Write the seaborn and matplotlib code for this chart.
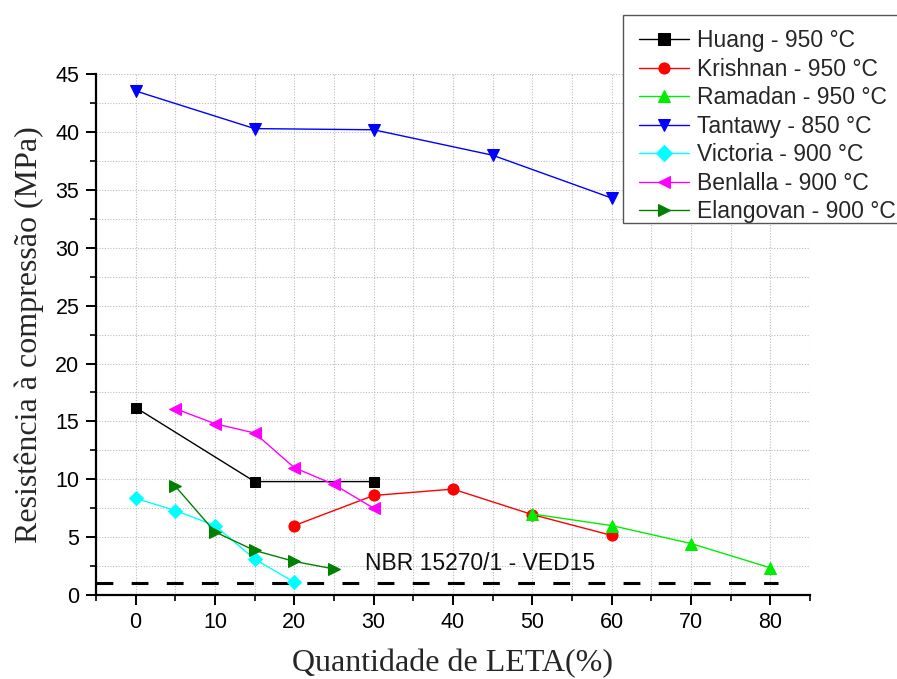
import matplotlib
matplotlib.use("Agg")
import matplotlib.pyplot as plt
from matplotlib.patches import Rectangle
from matplotlib.ticker import MultipleLocator
import seaborn as sns
import pandas as pd

# Compressive strength of bricks vs. water-treatment sludge (LETA) content
huang_x = [0, 15, 30]
huang_y = [16.2, 9.8, 9.8]
krishnan_x = [20, 30, 40, 50, 60]
krishnan_y = [6.0, 8.6, 9.15, 6.95, 5.15]
ramadan_x = [50, 60, 70, 80]
ramadan_y = [7.0, 6.0, 4.45, 2.35]
tantawy_x = [0, 15, 30, 45, 60]
tantawy_y = [43.55, 40.3, 40.2, 38.0, 34.3]
victoria_x = [0, 5, 10, 15, 20]
victoria_y = [8.35, 7.3, 6.0, 3.1, 1.1]
benlalla_x = [5, 10, 15, 20, 25, 30]
benlalla_y = [16.1, 14.8, 14.0, 11.0, 9.55, 7.5]
elangovan_x = [5, 10, 15, 20, 25]
elangovan_y = [9.4, 5.45, 3.85, 2.9, 2.25]

labels = ["Huang - 950 °C", "Krishnan - 950 °C", "Ramadan - 950 °C",
          "Tantawy - 850 °C", "Victoria - 900 °C", "Benlalla - 900 °C",
          "Elangovan - 900 °C"]

norm_limit = 1.0
norm_label = "NBR 15270/1 - VED15"

series = [
    (huang_x, huang_y, "#000000", "s", 7),
    (krishnan_x, krishnan_y, "#ff0000", "o", 8),
    (ramadan_x, ramadan_y, "#00ee00", "^", 9),
    (tantawy_x, tantawy_y, "#0000ff", "v", 9),
    (victoria_x, victoria_y, "#00ffff", "D", 7),
    (benlalla_x, benlalla_y, "#ff00ff", "<", 9),
    (elangovan_x, elangovan_y, "#008000", ">", 9),
]

sns.set_theme(style="white")
plt.rcParams["font.family"] = ["Liberation Sans", "DejaVu Sans"]

fig = plt.figure(figsize=(8.97, 6.79), dpi=100)
ax = fig.add_axes([0.107, 0.1237, 0.796, 0.767])

for (xs, ys, col, mk, ms), lab in zip(series, labels):
    df = pd.DataFrame({"x": xs, "y": ys})
    sns.lineplot(data=df, x="x", y="y", ax=ax, color=col, marker=mk,
                 markersize=ms, markeredgecolor=col, linewidth=1.0,
                 label=lab, zorder=3)

ax.axhline(norm_limit, xmin=0.0, xmax=(81 + 5) / 90, color="black",
           linewidth=2.2, dashes=(5.5, 6), zorder=2)
ax.text(28.9, norm_limit + 0.7, norm_label, fontsize=16.5, ha="left",
        va="bottom", color="#111111")

ax.set_xlim(-5, 85)
ax.set_ylim(0, 45)
ax.xaxis.set_major_locator(MultipleLocator(10))
ax.xaxis.set_minor_locator(MultipleLocator(5))
ax.yaxis.set_major_locator(MultipleLocator(5))
ax.yaxis.set_minor_locator(MultipleLocator(2.5))

ax.grid(True, which="both", color="#bbbbbb", linestyle=(0, (1, 1.5)),
        linewidth=0.8, zorder=0)
for side in ("top", "right"):
    ax.spines[side].set_visible(False)
for side in ("left", "bottom"):
    ax.spines[side].set_color("black")
    ax.spines[side].set_linewidth(1.6)

ax.tick_params(which="major", direction="out", length=7, width=1.4,
               colors="black", labelsize=15.5, left=True, bottom=True, pad=5)
ax.tick_params(which="minor", direction="out", length=4, width=1.2,
               colors="black", left=True, bottom=True)

ax.set_xlabel("Quantidade de LETA(%)", family="Liberation Serif",
              fontsize=23, labelpad=12)
ax.set_ylabel("Resistência à compressão (MPa)", family="Liberation Serif",
              fontsize=23, labelpad=8)

# Legend entries without a frame; the box is drawn separately in figure space
leg = ax.legend(loc="upper left", bbox_to_anchor=(0.6957, 0.979),
                bbox_transform=fig.transFigure, fontsize=16.5,
                frameon=False, handlelength=2.2, handletextpad=0.35,
                labelspacing=0.24, borderpad=0.65, borderaxespad=0)
for h in leg.legend_handles:
    h.set_markersize(8)
leg.set_zorder(6)

W, H = fig.get_size_inches() * fig.dpi
box = Rectangle((623 / W, 1 - 223 / H), 290 / W, 208 / H,
                transform=fig.transFigure, facecolor="white",
                edgecolor="#555555", linewidth=1.0, zorder=5, clip_on=False)
ax.add_artist(box)

fig.savefig("out.png", dpi=100)
